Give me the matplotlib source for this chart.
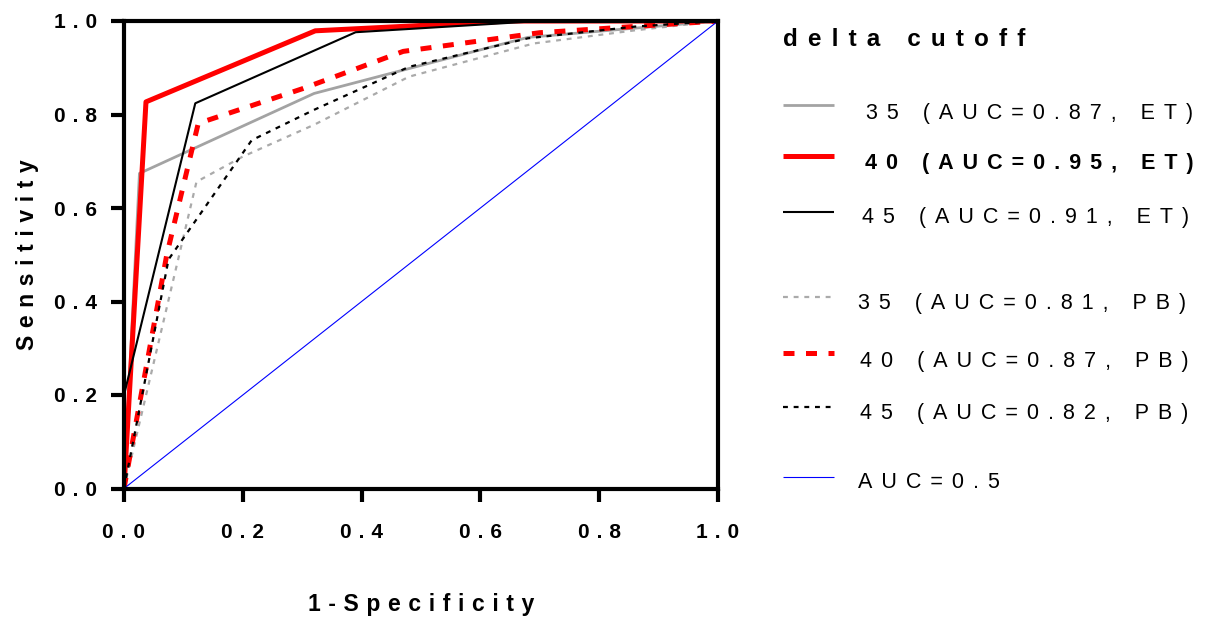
import matplotlib
matplotlib.use("Agg")
import matplotlib.pyplot as plt
from matplotlib.lines import Line2D

plt.rcParams['font.family'] = ['Liberation Sans', 'DejaVu Sans']

# ---------------- data ----------------
fpr_et35 = [0.0, 0.026, 0.32, 0.68, 1.0]
tpr_et35 = [0.0, 0.674, 0.845, 0.965, 1.0]

fpr_et40 = [0.0, 0.037, 0.322, 0.65, 1.0]
tpr_et40 = [0.0, 0.827, 0.979, 1.0, 1.0]

fpr_et45 = [0.0, 0.0, 0.12, 0.39, 0.70, 1.0]
tpr_et45 = [0.0, 0.20, 0.824, 0.976, 1.0, 1.0]

fpr_pb35 = [0.0, 0.122, 0.20, 0.32, 0.48, 0.69, 0.86, 1.0]
tpr_pb35 = [0.0, 0.656, 0.71, 0.778, 0.881, 0.952, 0.98, 1.0]

fpr_pb40 = [0.0, 0.072, 0.125, 0.30, 0.47, 0.70, 1.0]
tpr_pb40 = [0.0, 0.50, 0.781, 0.855, 0.935, 0.975, 1.0]

fpr_pb45 = [0.0, 0.075, 0.215, 0.32, 0.48, 0.68, 0.86, 1.0]
tpr_pb45 = [0.0, 0.49, 0.745, 0.81, 0.902, 0.963, 0.988, 1.0]

ref_x = [0.0, 1.0]
ref_y = [0.0, 1.0]

tick_values = [0.0, 0.2, 0.4, 0.6, 0.8, 1.0]
tick_labels = ["0.0", "0.2", "0.4", "0.6", "0.8", "1.0"]

legend_title = "delta cutoff"
series_labels = ["35 (AUC=0.87, ET)", "40 (AUC=0.95, ET)", "45 (AUC=0.91, ET)",
                 "35 (AUC=0.81, PB)", "40 (AUC=0.87, PB)", "45 (AUC=0.82, PB)",
                 "AUC=0.5"]
x_label = "1-Specificity"
y_label = "Sensitivity"

SEP = "\u2005\u2006"
SEP_TIGHT = "\u2004"


def spaced(s, sep=SEP):
    return sep.join(list(s))


W, H = 1205, 619
fig = plt.figure(figsize=(W / 100, H / 100), dpi=100)
ax = fig.add_axes([124 / W, 1 - 488.5 / H, (718 - 124) / W, (488.5 - 21) / H])

styles = [
    dict(color="#a3a3a3", lw=2.0, ls="-"),
    dict(color="#ff0000", lw=3.6, ls="-"),
    dict(color="#000000", lw=1.5, ls="-"),
    dict(color="#aaaaaa", lw=1.6, ls=(0, (2.2, 2.6))),
    dict(color="#ff0000", lw=3.6, ls=(0, (2.2, 2.3))),
    dict(color="#000000", lw=1.6, ls=(0, (2.2, 2.6))),
    dict(color="#0000ff", lw=0.8, ls="-"),
]
series = [(fpr_et35, tpr_et35), (fpr_et40, tpr_et40), (fpr_et45, tpr_et45),
          (fpr_pb35, tpr_pb35), (fpr_pb40, tpr_pb40), (fpr_pb45, tpr_pb45),
          (ref_x, ref_y)]

order = [6, 3, 5, 0, 4, 2, 1]
for i in order:
    xs, ys = series[i]
    st = styles[i]
    ax.plot(xs, ys, color=st["color"], lw=st["lw"], ls=st["ls"],
            solid_capstyle="butt", dash_capstyle="butt", zorder=2 + i * 0.1)

ax.set_xlim(0, 1)
ax.set_ylim(0, 1)
for sp in ax.spines.values():
    sp.set_linewidth(3)
    sp.set_zorder(5)
ax.set_xticks(tick_values)
ax.set_yticks(tick_values)
ax.set_xticklabels([spaced(t, SEP_TIGHT) for t in tick_labels], fontweight="bold", fontsize=15)
ax.set_yticklabels([spaced(t, SEP_TIGHT) for t in tick_labels], fontweight="bold", fontsize=15)
ax.tick_params(direction="out", length=9.5, width=3, color="black")
ax.tick_params(axis="x", pad=15)
ax.tick_params(axis="y", pad=10)

ax.set_xlabel(spaced(x_label, SEP_TIGHT), fontweight="bold", fontsize=16.5, labelpad=37)
ax.set_ylabel(spaced(y_label, SEP_TIGHT), fontweight="bold", fontsize=16.5, labelpad=11)


# ---------------- legend (manual) ----------------
def fx(px):
    return px / W


def fy(py):
    return 1 - py / H


fig.text(fx(783), fy(40), spaced(legend_title), fontsize=17.5, fontweight="bold",
         ha="left", va="center")

line_y = [105, 156, 212, 297, 353, 407, 477]
text_y = [113, 163, 217.5, 303, 362, 414, 483]
text_x = [866, 865, 862, 858, 860, 860, 858]
for i, lab in enumerate(series_labels):
    st = styles[i]
    ln = Line2D([fx(783), fx(834)], [fy(line_y[i]), fy(line_y[i])],
                transform=fig.transFigure, color=st["color"], lw=st["lw"],
                ls=st["ls"], solid_capstyle="butt", dash_capstyle="butt")
    fig.add_artist(ln)
    fig.text(fx(text_x[i]), fy(text_y[i]), spaced(lab), fontsize=15.5,
             fontweight="bold" if i == 1 else "normal", ha="left", va="center")

fig.savefig("out.png", dpi=100)
